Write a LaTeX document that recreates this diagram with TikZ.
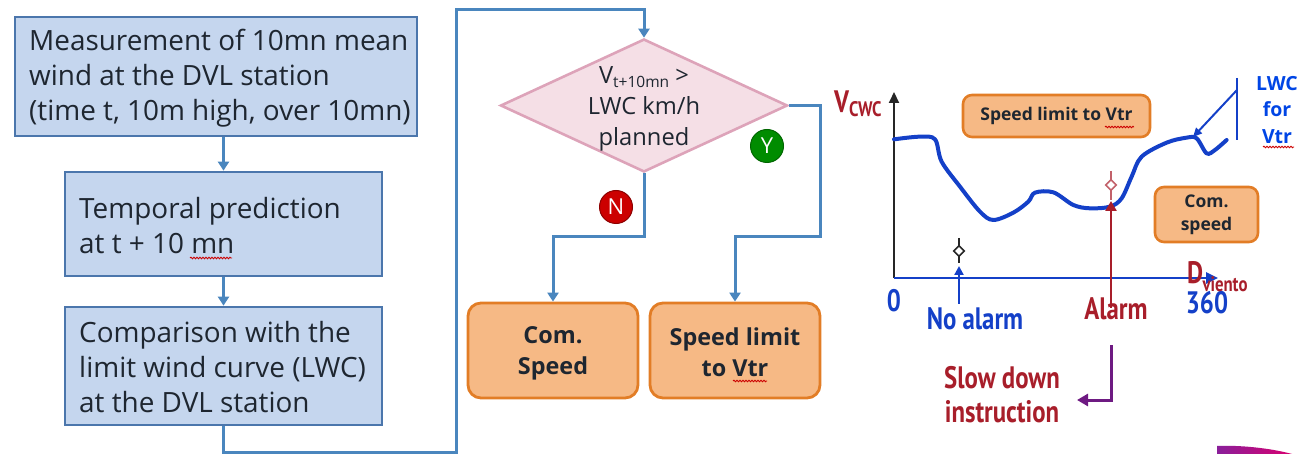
\documentclass[tikz,border=0pt]{standalone}
\usepackage{fontspec}
\setmainfont{Open Sans}
\newfontfamily\chartfont[FakeStretch=0.8]{PT Sans}
\usetikzlibrary{shapes.geometric,arrows.meta,decorations.pathmorphing}
\definecolor{boxfill}{HTML}{C5D6EE}
\definecolor{boxline}{HTML}{4B76AC}
\definecolor{conn}{HTML}{4A86BE}
\definecolor{dfill}{HTML}{F5DFE6}
\definecolor{dline}{HTML}{DDA3B9}
\definecolor{ofill}{HTML}{F6B985}
\definecolor{oline}{HTML}{E27D26}
\definecolor{chartblue}{HTML}{1440C8}
\definecolor{chartred}{HTML}{A81E2A}
\definecolor{chartpurple}{HTML}{6E1A82}
\definecolor{ink}{HTML}{1E2630}
\definecolor{cornerl}{HTML}{8A1F9A}
\definecolor{cornerr}{HTML}{D80070}
\tikzset{
  x=1pt,y=-1pt,
  flowbox/.style={draw=boxline,fill=boxfill,line width=2.7pt,inner sep=0pt,text=ink},
  orangebox/.style={draw=oline,fill=ofill,line width=2.8pt,rounded corners=13pt,inner sep=0pt,align=center,font=\fontsize{23.4}{31}\selectfont\bfseries,text=ink},
  chartbox/.style={draw=oline,fill=ofill,line width=2.6pt,rounded corners=9pt,inner sep=0pt,align=center,font=\fontsize{17.5}{23}\selectfont\bfseries,text=ink},
  flowtext/.style={anchor=west,align=left,inner sep=0pt,font=\fontsize{27.9}{35}\selectfont,text=ink},
  flowarrow/.style={draw=conn,line width=3pt,-{Triangle[length=9pt,width=11pt]}},
  badge/.style={circle,minimum size=33pt,inner sep=0pt,text=white,line width=1pt,font=\fontsize{22}{22}\selectfont},
  charttext/.style={inner sep=0pt,font=\chartfont\bfseries\fontsize{31}{31}\selectfont},
  spell/.style={draw=red!80!black,line width=0.9pt,decorate,decoration={snake,amplitude=0.8pt,segment length=3pt}},
}
\begin{document}
\begin{tikzpicture}
\useasboundingbox (0,0) rectangle (1301,454);
% left column
\node[flowbox,minimum width=402pt,minimum height=119pt] (b1) at (216,76.5) {};
\node[flowtext] (t1) at (29,78) {Measurement of 10mn mean\\wind at the DVL station\\(time t, 10m high, over 10mn)};
\node[flowbox,minimum width=317pt,minimum height=104pt] (b2) at (223.5,224) {};
\node[flowtext] (t2) at (79,226) {Temporal prediction\\at t + 10 mn};
\node[flowbox,minimum width=317pt,minimum height=118pt] (b3) at (223.5,366) {};
\node[flowtext] (t3) at (79,367) {Comparison with the\\limit wind curve (LWC)\\at the DVL station};
\draw[spell] (190,258) -- (232,258);
\draw[flowarrow] (b1.south -| b2.north) -- (b2.north);
\draw[flowarrow] (b2.south) -- (b3.north);
% diamond
\node[diamond,draw=dline,fill=dfill,line width=2.6pt,inner sep=0pt,aspect=2.16,minimum width=287pt,minimum height=133pt] (d) at (644,105.5) {};
\node[inner sep=0pt,align=center,font=\fontsize{23.7}{31}\selectfont,text=ink] (dt) at (644,109) {V\raisebox{-4pt}{\fontsize{15.5}{15.5}\selectfont t+10mn} >\\LWC km/h\\planned};
% orange boxes
\node[orangebox,minimum width=170pt,minimum height=95pt] (o1) at (553,350.5) {\rule{0pt}{22pt}Com.\\Speed};
\node[orangebox,minimum width=170pt,minimum height=95pt] (o2) at (735,350.5) {\rule{0pt}{22pt}Speed limit\\to Vtr};
\draw[spell] (733,381) -- (767,381);
% connectors
\coordinate (c1) at (456,452);
\coordinate (c2) at (456,10);
\coordinate (ny) at (644,237);
\coordinate (yr) at (820,105.5);
\coordinate (yb) at (820,237);
\draw[flowarrow] (b3.south) |- (c1) -- (c2) -| (d.north);
\draw[flowarrow] (d.south) -- (ny) -| (o1.north);
\draw[flowarrow] (d.east) -- (yr) -- (yb) -| (o2.north);
\node[badge,fill=green!55!black,draw=green!40!black] (y) at (767,146) {Y};
\node[badge,fill=red!80!black,draw=red!55!black] (n) at (616,207) {N};
% chart
\coordinate (org) at (894,278);
\coordinate (ytop) at (894,92);
\coordinate (xend) at (1218,278);
\draw[black!85,line width=2pt,-{Triangle[length=11pt,width=10pt]}] (org) -- (ytop);
\draw[chartblue,line width=2.6pt,-{Triangle[length=12pt,width=11pt]}] (org) -- (xend);
\begin{scope}[shift={(820,50)},x=0.3333pt,y=-0.3333pt]
\draw[chartblue,line width=4pt,line cap=round] plot[smooth,tension=0.55] coordinates {(222,268)(300,260)(345,268)(365,335)(420,410)(480,485)(520,510)(580,488)(625,455)(645,428)(700,427)(760,465)(810,475)(870,470)(905,445)(935,380)(965,320)(1040,278)(1100,263)(1130,265)(1160,310)(1185,300)(1220,270)};
\end{scope}
\node[chartbox,minimum width=187pt,minimum height=42pt] (s1) at (1056.5,116) {Speed limit to Vtr};
\draw[spell] (1105,127) -- (1134,127);
\node[chartbox,minimum width=103pt,minimum height=55pt] (s2) at (1206.5,214.5) {Com.\\speed};
% LWC
\coordinate (lt) at (1237,78);
\coordinate (lb) at (1237,140);
\coordinate (lm) at (1237,90);
\coordinate (lc) at (1193,137);
\draw[chartblue,line width=2pt] (lt) -- (lb);
\draw[chartblue,line width=2pt,-{Triangle[length=9pt,width=8pt]}] (lm) -- (lc);
\node[inner sep=0pt,align=center,text=blue!70!cyan!90!black,font=\fontsize{19.5}{26.5}\selectfont\bfseries] (lwc) at (1277,110) {LWC\\for\\Vtr};
\draw[spell] (1263,147) -- (1294,147);
% markers
\coordinate (na0) at (959,304);
\coordinate (na1) at (959,266);
\draw[chartblue,line width=2.6pt,-{Triangle[length=9pt,width=9pt]}] (na0) -- (na1);
\coordinate (nm0) at (959,238);
\coordinate (nm1) at (959,263);
\draw[black!85,line width=1.6pt] (nm0) -- (nm1);
\node[diamond,draw=black!85,fill=white,line width=1.6pt,minimum size=11pt,inner sep=0pt] (nm) at (959,251) {};
\coordinate (a0) at (1111,308);
\coordinate (a1) at (1111,201);
\draw[chartred,line width=2.6pt,-{Triangle[length=10pt,width=11pt]}] (a0) -- (a1);
\coordinate (am0) at (1111,171);
\coordinate (am1) at (1111,200);
\draw[chartred!70,line width=1.6pt] (am0) -- (am1);
\node[diamond,draw=chartred!70,fill=white,line width=1.6pt,minimum size=11pt,inner sep=0pt] (am) at (1111,185) {};
\coordinate (p0) at (1111,345);
\coordinate (p1) at (1111,400);
\coordinate (p2) at (1077,400);
\draw[chartpurple,line width=3pt,-{Triangle[length=11pt,width=12pt]}] (p0) -- (p1) -- (p2);
% chart labels
\node[charttext,text=chartred,anchor=west] (vc) at (834,104) {V\raisebox{-4pt}{\fontsize{21}{21}\selectfont CWC}};
\node[charttext,text=chartblue] (z) at (894,301) {0};
\node[charttext,text=chartblue] (na) at (975,319) {No alarm};
\node[charttext,text=chartred] (al) at (1116,309) {Alarm};
\node[charttext,text=chartblue] (m) at (1207,303) {360};
\node[charttext,text=chartred,anchor=west] (dv) at (1187,273) {D};
\node[inner sep=0pt,text=chartred,font=\chartfont\bfseries\fontsize{21}{21}\selectfont] (vi) at (1225,284) {viento};
\node[charttext,text=chartred,align=center,font=\chartfont\bfseries\fontsize{31}{34}\selectfont] (sd) at (1002,395) {Slow down\\instruction};
% corner shape
\shade[left color=cornerl,right color=cornerr] (1217,454) -- (1217,446) .. controls (1240,445) and (1270,448) .. (1292,454) -- cycle;
\end{tikzpicture}
\end{document}
